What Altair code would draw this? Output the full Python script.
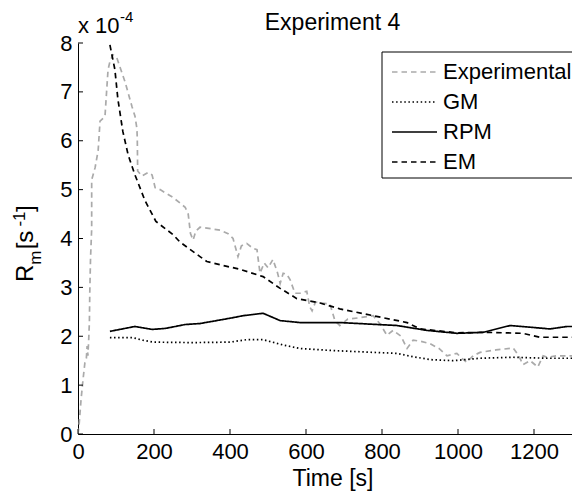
import altair as alt
import pandas as pd

# ---------------- data (y in units of 1e-4 s^-1) ----------------
exp_t = [0, 3, 8, 13, 18, 22, 24, 26, 28, 30, 31, 33, 36, 36, 45, 53, 58, 71, 79, 84, 92, 102, 124,
         142, 150, 155, 156, 157, 168, 184, 195, 203, 216, 250, 282, 290, 296, 303, 310, 321, 350,
         374, 395, 408, 415, 421, 430, 444, 460, 471, 479, 490, 500, 513, 525, 532, 540, 549, 558,
         571, 584, 602, 610, 616, 625, 637, 663, 676, 689, 710, 742, 777, 795, 813, 829, 850, 866,
         882, 900, 926, 950, 971, 997, 1010, 1023, 1040, 1058, 1100, 1145, 1160, 1171, 1190, 1210,
         1224, 1234, 1260, 1290, 1321]
exp_v = [0.0, 0.2, 0.7, 1.1, 1.45, 1.55, 1.8, 1.6, 1.9, 2.3, 2.9, 3.6, 4.2, 5.2, 5.45, 5.8, 6.4, 6.5,
         7.45, 7.62, 7.76, 7.7, 7.2, 6.7, 6.5, 6.25, 6.05, 5.38, 5.28, 5.35, 5.3, 5.04, 5.0, 4.84,
         4.64, 4.5, 4.1, 3.97, 4.15, 4.23, 4.2, 4.17, 4.1, 4.0, 3.8, 3.63, 3.85, 3.9, 3.8, 3.77,
         3.29, 3.5, 3.4, 3.57, 3.3, 3.08, 3.29, 3.27, 3.16, 2.88, 2.88, 2.92, 2.6, 2.52, 2.7, 2.68,
         2.66, 2.32, 2.22, 2.35, 2.38, 2.42, 2.25, 2.02, 2.12, 2.0, 1.75, 1.92, 1.9, 1.85, 1.75,
         1.6, 1.65, 1.55, 1.47, 1.6, 1.67, 1.72, 1.76, 1.6, 1.42, 1.5, 1.37, 1.6, 1.57, 1.6, 1.6, 1.6]

gm_t = [84, 145, 170, 197, 300, 400, 444, 487, 540, 584, 663, 777, 839, 882, 930, 987, 1058, 1145, 1234, 1321]
gm_v = [1.97, 1.97, 1.92, 1.88, 1.87, 1.88, 1.93, 1.93, 1.82, 1.75, 1.71, 1.67, 1.65, 1.58, 1.52, 1.50,
        1.55, 1.57, 1.55, 1.55]

rpm_t = [84, 110, 150, 195, 230, 282, 321, 408, 434, 487, 532, 584, 689, 839, 918, 997, 1066, 1137,
         1197, 1242, 1287, 1321]
rpm_v = [2.1, 2.14, 2.2, 2.14, 2.16, 2.24, 2.26, 2.38, 2.42, 2.47, 2.32, 2.28, 2.28, 2.22, 2.12, 2.06,
         2.08, 2.22, 2.18, 2.15, 2.2, 2.2]

em_t = [84, 97, 105, 118, 132, 150, 176, 205, 250, 268, 321, 339, 392, 426, 487, 532, 576, 637, 689,
        777, 866, 900, 997, 1075, 1171, 1215, 1321]
em_v = [7.96, 7.46, 6.85, 6.19, 5.71, 5.3, 4.78, 4.35, 4.08, 3.93, 3.63, 3.53, 3.43, 3.37, 3.22, 2.98,
        2.77, 2.68, 2.56, 2.42, 2.28, 2.15, 2.07, 2.08, 2.06, 1.98, 1.98]

series_names = ["Experimental", "GM", "RPM", "EM"]
series_colors = ["#AAAAAA", "#000000", "#000000", "#000000"]
series_dash = [[5.5, 4], [1.5, 2.6], [1, 0], [5.5, 4]]

x_ticks = [0, 200, 400, 600, 800, 1000, 1200]
y_ticks = [0, 1, 2, 3, 4, 5, 6, 7, 8]

# ---------------- layout ----------------
W, H = 494, 391
FONT = "Liberation Sans"

frames = []
for name, t, v in zip(series_names, [exp_t, gm_t, rpm_t, em_t], [exp_v, gm_v, rpm_v, em_v]):
    frames.append(pd.DataFrame({"t": t, "v": v, "series": name, "i": list(range(len(t)))}))
df = pd.concat(frames, ignore_index=True)

x_scale = alt.Scale(domain=[0, 1300], nice=False, zero=False)
y_scale = alt.Scale(domain=[0, 8], nice=False)

x_axis = alt.Axis(values=x_ticks, format="d", ticks=False, tickSize=0, grid=False, domainColor="black",
                  domainWidth=1, labelColor="black", labelFont=FONT, labelFontSize=22,
                  labelPadding=7, labelOverlap=False, labelFlush=False, title=None)
y_axis = alt.Axis(values=y_ticks, format="d", ticks=False, tickSize=0, grid=False, domainColor="black",
                  domainWidth=1, labelColor="black", labelFont=FONT, labelFontSize=22,
                  labelPadding=6, labelOverlap=False, labelFlush=False, title=None)

X = alt.X("t:Q", scale=x_scale, axis=x_axis, title=None)
Y = alt.Y("v:Q", scale=y_scale, axis=y_axis, title=None)

lines = alt.Chart(df).mark_line(clip=True, strokeWidth=1.7).encode(
    x=X, y=Y,
    color=alt.Color("series:N", scale=alt.Scale(domain=series_names, range=series_colors), legend=None),
    strokeDash=alt.StrokeDash("series:N", scale=alt.Scale(domain=series_names, range=series_dash), legend=None),
    order=alt.Order("i:Q"),
)

xt = alt.Chart(pd.DataFrame({"t": x_ticks})).mark_tick(
    orient="vertical", size=5, thickness=1, color="black", opacity=1
).encode(x=X, y=alt.value(H - 2.5))

yt = alt.Chart(pd.DataFrame({"v": y_ticks})).mark_tick(
    orient="horizontal", size=5, thickness=1, color="black", opacity=1
).encode(y=Y, x=alt.value(2.5))

one = pd.DataFrame({"a": [0]})


def txt(s, x, y, size=22, angle=0, align="left", baseline="alphabetic"):
    return alt.Chart(one).mark_text(font=FONT, fontSize=size, color="black", angle=angle,
                                    align=align, baseline=baseline).encode(
        x=alt.value(x), y=alt.value(y), text=alt.value(s))


layers = [lines, xt, yt]

# ---- legend (boxed, top right, partly beyond the right edge like the original) ----
LX, LY, ROW = 304, 9, 30
layers.append(alt.Chart(one).mark_rect(fill="white", stroke="black", strokeWidth=1).encode(
    x=alt.value(LX), x2=alt.value(W + 20), y=alt.value(LY), y2=alt.value(LY + 126)))
for k, (name, col, dash) in enumerate(zip(series_names, series_colors, series_dash)):
    yk = LY + 20 + ROW * k
    layers.append(alt.Chart(one).mark_rule(color=col, strokeDash=dash, strokeWidth=1.6).encode(
        x=alt.value(LX + 10), x2=alt.value(LX + 55), y=alt.value(yk)))
    layers.append(txt(name, LX + 61, yk, size=22, baseline="middle"))

# ---- titles and annotations ----
layers += [
    txt("Experiment 4", 254.5, -13, size=23, align="center"),
    txt("x 10", 0, -10, size=22),
    txt("-4", 42, -21, size=15),
    txt("Time [s]", 255, H + 52, size=23, align="center"),
]

# rotated y title:  R_m [s^-1]
by = 239.0
bx = -45
pieces = [("R", 24, 0, 0.722), ("m", 17, 8, 0.9), (" [s", 24, 0, 0.95), ("-1", 17, -8, 0.85), ("]", 24, 0, 0.278)]
for s, fs, shift, em in pieces:
    layers.append(txt(s, bx + shift, by, size=fs, angle=270))
    by -= em * fs

chart = alt.layer(*layers).properties(
    width=W, height=H,
    autosize=alt.AutoSizeParams(type="none"),
    padding={"left": 70, "top": 35, "right": 0, "bottom": 57},
    background="white",
).configure_view(strokeWidth=0)

chart.save("out.html", embed_options={"renderer": "svg", "actions": False})
